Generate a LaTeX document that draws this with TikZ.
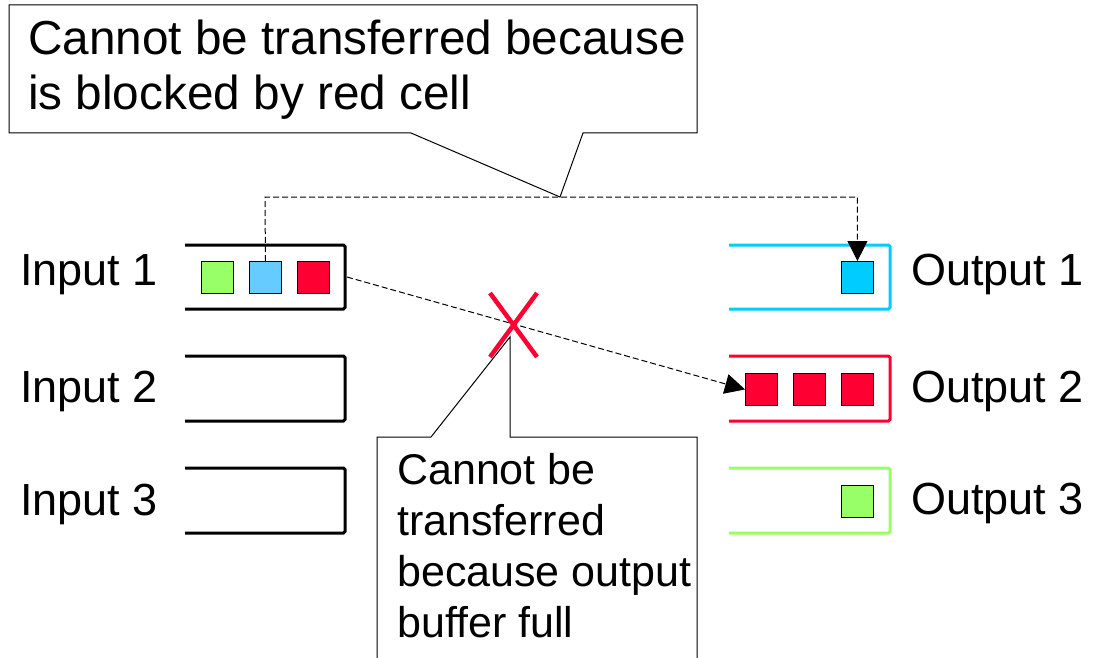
\documentclass[tikz,border=0pt]{standalone}
\usepackage{fontspec}
\setmainfont{Liberation Sans}
\usetikzlibrary{arrows.meta}
\definecolor{cellred}{HTML}{FF0033}
\definecolor{cellgreen}{HTML}{99FF66}
\definecolor{cellblue}{HTML}{66CCFF}
\definecolor{outcyan}{HTML}{00CCFF}
\begin{document}
\begin{tikzpicture}[x=1pt,y=-1pt,
  buf/.style={line width=3pt, rounded corners=1.5pt},
  cell/.style={draw=black, line width=0.9pt, minimum size=32pt, inner sep=0pt, anchor=north west},
  callout/.style={draw=black, fill=white, line width=1pt},
  flow/.style={draw=black, line width=1pt, dash pattern=on 6pt off 3pt},
  tip/.style={-{Triangle[length=20pt,width=20pt]}},
  portlabel/.style={font=\fontsize{45}{50}\selectfont, anchor=base west, inner sep=0pt},
  note/.style={anchor=base west, align=left, inner sep=0pt}]
\clip (0,0) rectangle (1098,658);
\fill[white] (0,0) rectangle (1098,658);

% input buffers (open on the left)
\draw[buf] (185,245) -- (345,245) -- (345,309) -- (185,309);
\draw[buf] (185,356) -- (345,356) -- (345,421) -- (185,421);
\draw[buf] (185,468) -- (345,468) -- (345,533) -- (185,533);
\coordinate (in1exit) at (347,277);

% output buffers
\draw[buf, outcyan]   (729,245) -- (890,245) -- (890,309) -- (729,309);
\draw[buf, cellred]   (729,356) -- (890,356) -- (890,421) -- (729,421);
\draw[buf, cellgreen] (729,468) -- (890,468) -- (890,533) -- (729,533);

% cells
\node[cell, fill=cellgreen] (in1a) at (201,261) {};
\node[cell, fill=cellblue]  (in1b) at (249,261) {};
\node[cell, fill=cellred]   (in1c) at (297,261) {};
\node[cell, fill=outcyan]   (out1a) at (841,261) {};
\node[cell, fill=cellred]   (out2a) at (745,373) {};
\node[cell, fill=cellred]   (out2b) at (793,373) {};
\node[cell, fill=cellred]   (out2c) at (841,373) {};
\node[cell, fill=cellgreen] (out3a) at (841,485) {};

% port labels
\node[portlabel] (lin1) at (20,285) {Input 1};
\node[portlabel] (lin2) at (20,402) {Input 2};
\node[portlabel] (lin3) at (20,515) {Input 3};
\node[portlabel] (lout1) at (911,285) {Output 1};
\node[portlabel] (lout2) at (911,402) {Output 2};
\node[portlabel] (lout3) at (911,514) {Output 3};

% transfers
\coordinate (bend) at (265,197);
\coordinate (topapex) at (560,197);
\draw[flow, tip] (in1b.north) -- (bend) -| (out1a.north);
\draw[flow, tip] (in1exit) -- (out2a.west);

% blocked mark
\draw[cellred, line width=4.5pt] (490,293) -- (537,357) (537,293) -- (490,357);
\coordinate (lowapex) at (510,337);

% callouts (text anchored on the baseline of its last line)
\draw[callout] (9,5) -- (697,5) -- (697,133) -- (583,133) -- (topapex)
  -- (411,133) -- (9,133) -- cycle;
\node[note, font=\fontsize{47.7}{55}\selectfont] (topnote) at (28,110)
  {Cannot be transferred because\\is blocked by red cell};

\draw[callout] (377,680) -- (377,437) -- (431,437) -- (lowapex)
  -- (510,437) -- (697,437) -- (697,680);
\node[note, font=\fontsize{43}{51}\selectfont] (lownote) at (397,637)
  {Cannot be\\transferred\\because output\\buffer full};
\end{tikzpicture}
\end{document}
